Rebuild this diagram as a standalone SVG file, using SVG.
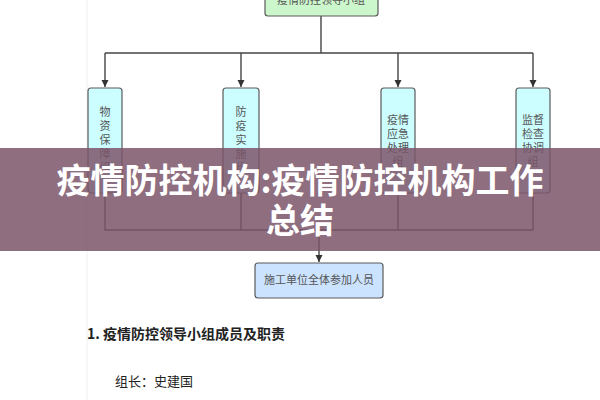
<svg xmlns="http://www.w3.org/2000/svg" width="600" height="400" viewBox="0 0 600 400">
<style>
.box{stroke:#5a5a5a;stroke-width:1.2}
.vb{fill:#ccfdff}
.lbl{font-family:"Noto Sans CJK SC","Noto Sans",sans-serif;font-size:11px;fill:#555;text-anchor:middle}
.ln{stroke:#444;stroke-width:1.4;fill:none}
.title{font-family:"Noto Sans CJK SC","Noto Sans",sans-serif;font-size:34px;font-weight:bold;fill:#fff;text-anchor:middle}
.body{font-family:"Noto Sans CJK SC","Noto Sans",sans-serif;fill:#222}
</style>
<defs>
<marker id="ah" markerWidth="8" markerHeight="10" refX="7" refY="5" orient="auto" markerUnits="userSpaceOnUse">
<path d="M0,1.5 L7,5 L0,8.5 Z" fill="#333"/>
</marker>
</defs>
<rect width="600" height="400" fill="#fff"/>
<line x1="87" y1="0" x2="87" y2="400" stroke="#f0f0f0" stroke-width="1"/>
<g id="connectors">
<path class="ln" d="M321,16 V53"/>
<path class="ln" d="M105,53 H533"/>
<path class="ln" d="M105,53 V87" marker-end="url(#ah)"/>
<path class="ln" d="M241,53 V87" marker-end="url(#ah)"/>
<path class="ln" d="M398,53 V87" marker-end="url(#ah)"/>
<path class="ln" d="M533,53 V87" marker-end="url(#ah)"/>
<path class="ln" d="M105,193 V230 H533 V193"/>
<path class="ln" d="M241,193 V230"/>
<path class="ln" d="M398,193 V230"/>
<path class="ln" d="M319,230 V262" marker-end="url(#ah)"/>
</g>
<g id="node-top">
<rect class="box" x="265" y="-10" width="113" height="26" rx="3" fill="#ccf7cc"/>
<text class="lbl" x="321" y="4">疫情防控领导小组</text>
</g>
<g id="node-wuzi">
<rect class="box vb" x="88" y="88" width="34" height="105" rx="3"/>
<text class="lbl"><tspan x="105" y="116">物</tspan><tspan x="105" y="130">资</tspan><tspan x="105" y="144">保</tspan><tspan x="105" y="158">障</tspan><tspan x="105" y="172">组</tspan></text>
</g>
<g id="node-fangyi">
<rect class="box vb" x="223" y="88" width="36" height="105" rx="3"/>
<text class="lbl"><tspan x="241" y="116">防</tspan><tspan x="241" y="130">疫</tspan><tspan x="241" y="144">实</tspan><tspan x="241" y="158">施</tspan><tspan x="241" y="172">组</tspan></text>
</g>
<g id="node-yingji">
<rect class="box vb" x="381" y="88" width="34" height="105" rx="3"/>
<text class="lbl"><tspan x="398" y="124">疫情</tspan><tspan x="398" y="138">应急</tspan><tspan x="398" y="152">处理</tspan><tspan x="398" y="166">组</tspan></text>
</g>
<g id="node-jiandu">
<rect class="box vb" x="516" y="88" width="34" height="105" rx="3"/>
<text class="lbl"><tspan x="533" y="124">监督</tspan><tspan x="533" y="138">检查</tspan><tspan x="533" y="152">协调</tspan><tspan x="533" y="166">组</tspan></text>
</g>
<g id="node-bottom">
<rect class="box" x="255" y="263" width="128" height="35" rx="3" fill="#cce3ff"/>
<text class="lbl" x="319" y="284">施工单位全体参加人员</text>
</g>
<text class="body" x="87" y="339" font-size="14" font-weight="bold">1. 疫情防控领导小组成员及职责</text>
<text class="body" x="115" y="386" font-size="13" fill="#333">组长：史建国</text>
<rect x="0" y="148" width="600" height="103" fill="#7b556a" opacity="0.85"/>
<text class="title" x="300" y="193">疫情防控机构:疫情防控机构工作</text>
<text class="title" x="300" y="233">总结</text>
</svg>
